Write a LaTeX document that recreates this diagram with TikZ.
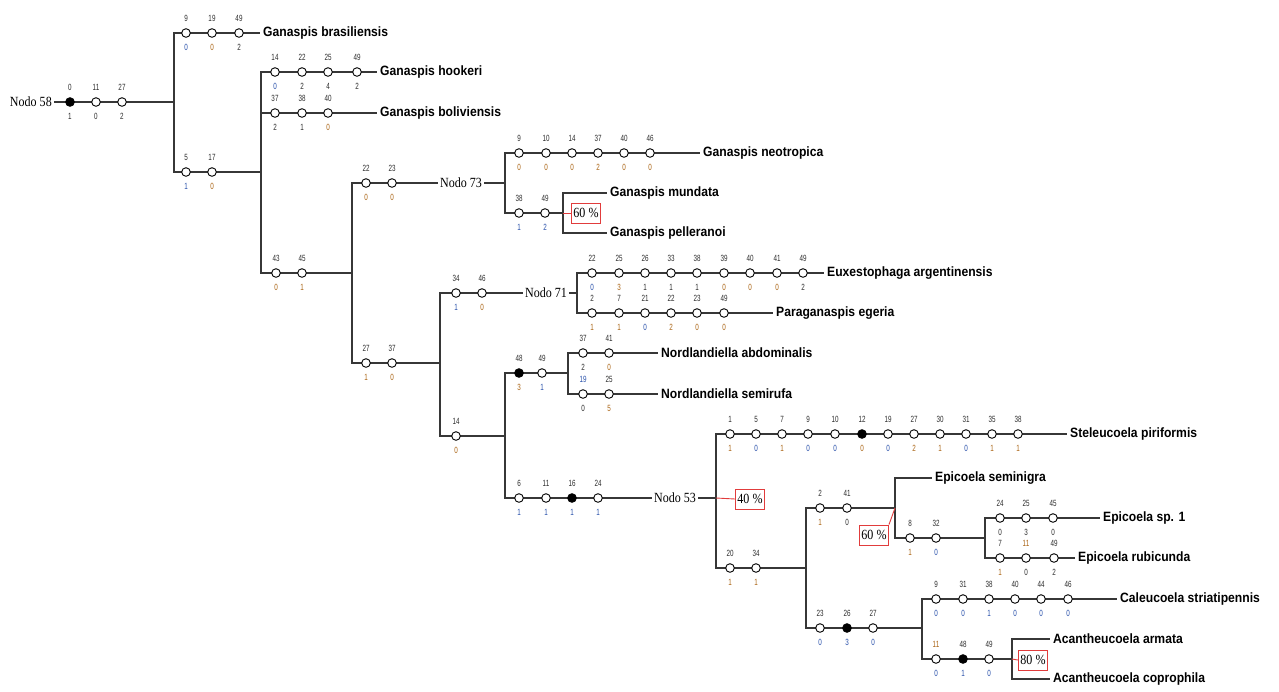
\documentclass[tikz,border=0pt]{standalone}
\usepackage{fontspec}
\newfontfamily\spfont[FakeStretch=0.9]{Liberation Sans}
\newfontfamily\numfont[FakeStretch=0.7]{Liberation Sans}
\newfontfamily\nodfont[FakeStretch=0.86]{Liberation Serif}

\definecolor{cD}{RGB}{45,45,45}
\definecolor{cB}{RGB}{40,80,170}
\definecolor{cO}{RGB}{170,100,20}
\definecolor{lineC}{RGB}{55,55,55}
\definecolor{pctred}{RGB}{225,60,60}

\tikzset{
  br/.style={draw=lineC, line width=1.2pt},
  redln/.style={draw=pctred, line width=0.9pt},
  oc/.style={circle, draw=black, fill=white, line width=0.9pt, minimum size=8.6pt, inner sep=0pt},
  fc/.style={circle, draw=black, fill=black, line width=0.9pt, minimum size=8.6pt, inner sep=0pt},
  toplab/.style={font=\numfont\fontsize{9}{9}\selectfont, inner sep=0pt},
  botlab/.style={font=\numfont\fontsize{9}{9}\selectfont, inner sep=0pt},
  sp/.style={anchor=west, inner xsep=3pt, inner ysep=1pt, text=black,
             font=\spfont\bfseries\fontsize{13.5}{14}\selectfont},
  nodo/.style={inner xsep=2pt, inner ysep=1pt, text=black,
               font=\nodfont\fontsize{14}{14}\selectfont},
  pct/.style={draw=pctred, line width=0.9pt, fill=white, inner xsep=2pt, inner ysep=1pt,
              minimum height=20pt, text=black, font=\nodfont\fontsize{14}{14}\selectfont},
}

% a row of character changes: x / top number / bottom number / marker / bottom colour / top colour
\newcommand\charrow[3]{%
  \foreach \cx/\ct/\cb/\ck/\cc/\cq [count=\ci] in {#3} {
    \node[\ck] (#1-\ci) at (\cx,#2) {};
    \node[toplab,text=\cq] (#1-\ci-t) at ([yshift=15pt]#1-\ci.center) {\ct};
    \node[botlab,text=\cc] (#1-\ci-b) at ([yshift=-14pt]#1-\ci.center) {\cb};
  }}

\begin{document}
\begin{tikzpicture}[x=1pt,y=-1pt]
\fill[white] (0,0) rectangle (1279,691);
\useasboundingbox (0,0) rectangle (1279,691);

% internal nodes and terminals
\node[nodo, anchor=east] (n58) at (54,102) {Nodo 58};
\node[nodo, anchor=west] (n73) at (438,183) {Nodo 73};
\node[nodo, anchor=west] (n71) at (523,293) {Nodo 71};
\node[nodo, anchor=west] (n53) at (652,498) {Nodo 53};

\node[sp] (bras) at (260,33) {Ganaspis brasiliensis};
\node[sp] (hook) at (377,72) {Ganaspis hookeri};
\node[sp] (boli) at (377,113) {Ganaspis boliviensis};
\node[sp] (neot) at (700,153) {Ganaspis neotropica};
\node[sp] (mund) at (607,193) {Ganaspis mundata};
\node[sp] (pell) at (607,233) {Ganaspis pelleranoi};
\node[sp] (euxe) at (824,273) {Euxestophaga argentinensis};
\node[sp] (para) at (773,313) {Paraganaspis egeria};
\node[sp] (abdo) at (658,353) {Nordlandiella abdominalis};
\node[sp] (semi) at (658,394) {Nordlandiella semirufa};
\node[sp] (stel) at (1067,434) {Steleucoela piriformis};
\node[sp] (semg) at (932,478) {Epicoela seminigra};
\node[sp] (esp1) at (1100,518) {Epicoela sp. 1};
\node[sp] (rubi) at (1075,558) {Epicoela rubicunda};
\node[sp] (cale) at (1117,599) {Caleucoela striatipennis};
\node[sp] (arma) at (1050,639) {Acantheucoela armata};
\node[sp] (copr) at (1050,679) {Acantheucoela coprophila};

% branching points
\coordinate (J58) at (174,102);
\coordinate (Ja)  at (261,172);
\coordinate (Jb)  at (352,273);
\coordinate (J73) at (505,183);
\coordinate (Jmp) at (563,213);
\coordinate (Jc)  at (440,363);
\coordinate (J71) at (577,293);
\coordinate (Jd)  at (505,436);
\coordinate (Je)  at (568,373);
\coordinate (J53) at (716,498);
\coordinate (Jf)  at (806,568);
\coordinate (Jg)  at (895,508);
\coordinate (Jh)  at (985,538);
\coordinate (Ji)  at (922,628);
\coordinate (Jj)  at (1012,659);

% support boxes
\node[pct] (p60a) at (586,213) {60 \%};
\node[pct] (p40)  at (750,499) {40 \%};
\node[pct] (p60b) at (874,535) {60 \%};
\node[pct] (p80)  at (1033,660) {80 \%};

% branches
\draw[br] (n58.east) -- (J58);
\draw[br] (J58) |- (bras.west);
\draw[br] (J58) |- (Ja);
\draw[br] (Ja) |- (hook.west);
\draw[br] (Ja) |- (boli.west);
\draw[br] (Ja) |- (Jb);
\draw[br] (Jb) |- (n73.west);
\draw[br] (Jb) |- (Jc);
\draw[br] (n73.east) -- (J73);
\draw[br] (J73) |- (neot.west);
\draw[br] (J73) |- (Jmp);
\draw[br] (Jmp) |- (mund.west);
\draw[br] (Jmp) |- (pell.west);
\draw[br] (Jc) |- (n71.west);
\draw[br] (Jc) |- (Jd);
\draw[br] (n71.east) -- (J71);
\draw[br] (J71) |- (euxe.west);
\draw[br] (J71) |- (para.west);
\draw[br] (Jd) |- (Je);
\draw[br] (Jd) |- (n53.west);
\draw[br] (Je) |- (abdo.west);
\draw[br] (Je) |- (semi.west);
\draw[br] (n53.east) -- (J53);
\draw[br] (J53) |- (stel.west);
\draw[br] (J53) |- (Jf);
\draw[br] (Jf) |- (Jg);
\draw[br] (Jf) |- (Ji);
\draw[br] (Jg) |- (semg.west);
\draw[br] (Jg) |- (Jh);
\draw[br] (Jh) |- (esp1.west);
\draw[br] (Jh) |- (rubi.west);
\draw[br] (Ji) |- (cale.west);
\draw[br] (Ji) |- (Jj);
\draw[br] (Jj) |- (arma.west);
\draw[br] (Jj) |- (copr.west);

% links to support boxes
\draw[redln] (Jmp) -- (p60a.west);
\draw[redln] (J53) -- (p40.west);
\draw[redln] (Jg) -- (p60b.north east);
\draw[redln] (Jj) -- (p80.west);

% character changes
\charrow{r58}{102}{70/0/1/fc/cD/cD, 96/11/0/oc/cD/cD, 122/27/2/oc/cD/cD}
\charrow{rbr}{33}{186/9/0/oc/cB/cD, 212/19/0/oc/cO/cD, 239/49/2/oc/cD/cD}
\charrow{ra}{172}{186/5/1/oc/cB/cD, 212/17/0/oc/cO/cD}
\charrow{rho}{72}{275/14/0/oc/cB/cD, 302/22/2/oc/cD/cD, 328/25/4/oc/cD/cD, 357/49/2/oc/cD/cD}
\charrow{rbo}{113}{275/37/2/oc/cD/cD, 302/38/1/oc/cD/cD, 328/40/0/oc/cO/cD}
\charrow{rb}{273}{276/43/0/oc/cO/cD, 302/45/1/oc/cO/cD}
\charrow{r73}{183}{366/22/0/oc/cO/cD, 392/23/0/oc/cO/cD}
\charrow{rne}{153}{519/9/0/oc/cO/cD, 546/10/0/oc/cO/cD, 572/14/0/oc/cO/cD, 598/37/2/oc/cO/cD, 624/40/0/oc/cO/cD, 650/46/0/oc/cO/cD}
\charrow{rmp}{213}{519/38/1/oc/cB/cD, 545/49/2/oc/cB/cD}
\charrow{rc}{363}{366/27/1/oc/cO/cD, 392/37/0/oc/cO/cD}
\charrow{r71}{293}{456/34/1/oc/cB/cD, 482/46/0/oc/cO/cD}
\charrow{reu}{273}{592/22/0/oc/cB/cD, 619/25/3/oc/cO/cD, 645/26/1/oc/cD/cD, 671/33/1/oc/cD/cD, 697/38/1/oc/cD/cD, 724/39/0/oc/cO/cD, 750/40/0/oc/cO/cD, 777/41/0/oc/cO/cD, 803/49/2/oc/cD/cD}
\charrow{rpa}{313}{592/2/1/oc/cO/cD, 619/7/1/oc/cO/cD, 645/21/0/oc/cB/cD, 671/22/2/oc/cO/cD, 697/23/0/oc/cO/cD, 724/49/0/oc/cO/cD}
\charrow{rd}{436}{456/14/0/oc/cO/cD}
\charrow{re}{373}{519/48/3/fc/cO/cD, 542/49/1/oc/cB/cD}
\charrow{rab}{353}{583/37/2/oc/cD/cD, 609/41/0/oc/cO/cD}
\charrow{rse}{394}{583/19/0/oc/cD/cB, 609/25/5/oc/cO/cD}
\charrow{r53}{498}{519/6/1/oc/cB/cD, 546/11/1/oc/cB/cD, 572/16/1/fc/cB/cD, 598/24/1/oc/cB/cD}
\charrow{rst}{434}{730/1/1/oc/cO/cD, 756/5/0/oc/cB/cD, 782/7/1/oc/cO/cD, 808/9/0/oc/cB/cD, 835/10/0/oc/cB/cD, 862/12/0/fc/cO/cD, 888/19/0/oc/cB/cD, 914/27/2/oc/cO/cD, 940/30/1/oc/cO/cD, 966/31/0/oc/cB/cD, 992/35/1/oc/cO/cD, 1018/38/1/oc/cO/cD}
\charrow{rf}{568}{730/20/1/oc/cO/cD, 756/34/1/oc/cO/cD}
\charrow{rg}{508}{820/2/1/oc/cO/cD, 847/41/0/oc/cD/cD}
\charrow{rh}{538}{910/8/1/oc/cO/cD, 936/32/0/oc/cB/cD}
\charrow{rs1}{518}{1000/24/0/oc/cD/cD, 1026/25/3/oc/cD/cD, 1053/45/0/oc/cD/cD}
\charrow{rru}{558}{1000/7/1/oc/cO/cD, 1026/11/0/oc/cD/cO, 1054/49/2/oc/cD/cD}
\charrow{ri}{628}{820/23/0/oc/cB/cD, 847/26/3/fc/cB/cD, 873/27/0/oc/cB/cD}
\charrow{rca}{599}{936/9/0/oc/cB/cD, 963/31/0/oc/cB/cD, 989/38/1/oc/cB/cD, 1015/40/0/oc/cB/cD, 1041/44/0/oc/cB/cD, 1068/46/0/oc/cB/cD}
\charrow{rj}{659}{936/11/0/oc/cB/cO, 963/48/1/fc/cB/cD, 989/49/0/oc/cB/cD}
\end{tikzpicture}
\end{document}
